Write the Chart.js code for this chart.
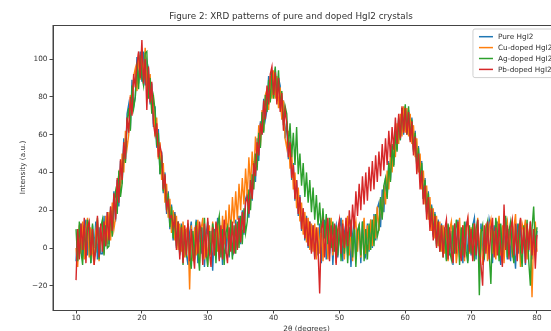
<!DOCTYPE html>
<html>
<head>
<meta charset="utf-8">
<script src="https://cdn.jsdelivr.net/npm/chart.js@4.4.0/dist/chart.umd.min.js"></script>
<style>
  html, body { margin: 0; padding: 0; background: #fff; overflow: hidden; }
  #wrap { position: absolute; left: 0; top: 0; width: 582px; height: 342px; }
</style>
</head>
<body>
<div id="wrap"><canvas id="xrd" width="582" height="342"></canvas></div>
<script>
// 2theta grid: 10 .. 80 in steps of 0.25
const thetaStart = 10;
const thetaStep = 0.25;

const seriesNames = ['Pure HgI2', 'Cu-doped HgI2', 'Ag-doped HgI2', 'Pb-doped HgI2'];
const seriesColors = ['#1f77b4', '#ff7f0e', '#2ca02c', '#d62728'];

const xTicks = [10, 20, 30, 40, 50, 60, 70, 80];
const yTicks = [-20, 0, 20, 40, 60, 80, 100];

// intensities, one row = 5 degrees
const pure = [
  -7, 10, -1, 13, -5, 8, 15, -4, 11, -8, 12, 0, 14, -6, 11, -3, -3, 17, 1, 19,
  2, 22, 8, 30, 14, 36, 22, 46, 34, 58, 46, 71, 76, 63, 89, 75, 80, 101, 87, 104,
  88, 104, 86, 99, 95, 76, 87, 64, 75, 53, 63, 39, 51, 29, 40, 18, 30, 10, 23, 4,
  19, 0, 14, -4, 13, -6, 10, -3, -9, 8, 14, -5, 7, 15, -8, 10, -3, 11, -10, 7,
  14, -4, 9, -12, 10, -2, 16, -6, 8, -9, 12, -3, 13, -5, 10, -4, -2, 15, 0, 17,
  2, 20, 7, 26, 29, 16, 37, 25, 46, 35, 58, 46, 67, 60, 79, 68, 73, 91, 78, 94,
  80, 95, 78, 90, 86, 68, 78, 58, 67, 47, 57, 36, 45, 25, 36, 17, 28, 9, 21, 4,
  17, 0, 14, -2, 12, -5, 10, -4, 13, -8, 9, 15, -6, 11, -3, 14, -9, 8, 12, -5,
  10, 16, -7, 8, 13, -4, 11, -10, 7, 15, -6, 9, 12, -8, 14, -3, -5, 13, -2, 15,
  0, 18, 4, 21, 24, 11, 31, 19, 37, 27, 46, 36, 54, 44, 62, 52, 69, 57, 74, 60,
  75, 61, 73, 58, 69, 52, 62, 44, 54, 36, 46, 26, 37, 18, 30, 12, 23, 6, 19, 2,
  15, -1, 13, -3, 11, -6, 12, -4, 9, -9, 13, -2, 15, -5, 10, -8, 7, 14, -7, 11,
  -4, 12, 16, -6, 9, -10, 13, -1, -5, 11, -2, 15, 10, -8, 12, -4, 14, -1, -9, 11,
  -2, 16, -6, 10, -7, 12, 0, -11, 13, -3, 15, -5, 8, -9, 11, -2, 14, -6, 10, -3,
  9
];

const cuDoped = [
  0, -10, 12, -3, 14, -6, 10, 16, -5, 11, -2, -9, 9, 15, -7, 12, 13, -3, 17, 2,
  19, 4, 24, 10, 16, 33, 39, 29, 50, 40, 62, 53, 60, 81, 71, 91, 95, 83, 103, 89,
  104, 90, 106, 85, 81, 92, 72, 81, 59, 69, 47, 56, 36, 45, 24, 34, 16, 26, 8, 20,
  4, 17, -1, 13, -2, 14, -5, 10, 8, -22, 12, -7, 11, -4, 15, -8, 10, 16, -6, 7,
  -9, 12, -3, 14, -4, 13, -2, 16, 0, 17, 2, 20, 5, 23, 8, 27, 13, 30, 15, 34,
  20, 37, 23, 42, 27, 48, 32, 51, 38, 59, 46, 65, 54, 73, 62, 81, 84, 73, 91, 79,
  94, 79, 91, 74, 85, 68, 78, 58, 53, 62, 42, 51, 31, 40, 21, 32, 14, 24, 7, 19,
  3, 16, -1, 13, -2, 13, -6, 11, -3, 14, -7, 10, 13, -6, 9, 16, -4, 11, -8, 8,
  12, -3, 15, -6, 9, 17, -4, 11, -7, 10, 14, -2, 13, -5, 8, 16, -3, 12, -1, 15,
  1, 17, 5, 22, 9, 26, 16, 33, 23, 41, 31, 50, 40, 58, 48, 66, 55, 71, 59, 75,
  61, 74, 59, 71, 55, 65, 48, 58, 40, 50, 31, 41, 23, 33, 15, 27, 9, 21, 5, 17,
  1, 14, -2, 12, -3, 13, -7, 10, 14, -2, 11, -8, 0, 16, -5, 12, -7, 10, 15, -3,
  11, -6, 13, -1, 16, -4, 10, -9, -2, 13, -7, 11, 15, -3, 9, -6, 10, 17, -4, 12,
  -8, 9, 14, -1, 12, -5, 11, 18, -3, 10, -10, 13, 9, 15, -6, 8, 12, -26, 7, 14,
  -2
];

const agDoped = [
  10, -7, 14, -2, -9, 12, -3, 15, 8, -8, 13, -5, -2, 16, -6, 11, 15, -4, 12, 0,
  1, 20, 6, 25, 30, 18, 41, 27, 34, 54, 45, 67, 74, 62, 86, 74, 80, 98, 84, 102,
  91, 86, 103, 104, 79, 90, 71, 80, 73, 54, 61, 39, 49, 30, 38, 20, 29, 11, 22, 5,
  18, 1, 14, -3, 12, -9, 10, -5, 13, -3, -11, 9, -6, 14, -1, -12, 11, -5, 16, -2,
  -10, 9, -4, 13, 7, -8, 12, 17, -5, 10, -9, 8, 11, -4, 15, -6, 12, -3, 14, 0,
  17, 2, 21, 8, 14, 31, 20, 39, 31, 50, 41, 61, 53, 72, 61, 81, 72, 89, 77, 93,
  79, 96, 80, 94, 74, 83, 65, 75, 71, 53, 66, 48, 61, 44, 64, 39, 50, 33, 45, 27,
  40, 24, 36, 19, 32, 15, 28, 12, 24, 8, 21, 5, 18, 2, 16, 0, 14, -2, 12, -4,
  11, -7, 10, -3, 13, -8, 7, 15, -5, 11, -10, 9, 12, -4, 14, -7, 10, -6, 13, -1,
  15, 1, 18, 6, 10, 27, 15, 33, 37, 26, 45, 35, 55, 43, 62, 51, 68, 57, 74, 62,
  76, 60, 75, 57, 68, 51, 61, 43, 53, 35, 45, 26, 36, 19, 29, 12, 22, 7, 18, 1,
  14, -2, 12, -5, 10, -7, 13, -2, -6, 12, -3, 15, 9, -9, 11, -4, 14, -2, -8, 12,
  -3, 13, -7, 10, 15, -25, 8, 12, -6, 10, 14, -3, -19, 11, -2, 16, 8, -7, 13, -4,
  11, 17, -5, 9, 14, -2, -8, 12, -4, 13, -1, -10, 12, -3, 15, -7, -20, 10, 22, 0,
  11
];

const pbDoped = [
  -17, 10, -6, 13, -1, 16, -8, 11, 14, -4, 10, -9, 0, 17, -5, 13, -2, 14, 1, 19,
  4, 22, 9, 29, 15, 37, 24, 47, 36, 56, 47, 69, 61, 80, 70, 92, 85, 97, 104, 90,
  110, 87, 100, 73, 96, 77, 88, 66, 60, 66, 48, 54, 50, 31, 39, 21, 25, 16, 17, 11,
  16, -1, 14, -6, 11, -8, 12, -4, 15, -7, 10, -2, -11, 12, -3, 14, 8, -9, 13, -5,
  16, -2, -10, 11, -4, 14, 8, -7, 12, -6, 15, -1, -8, 11, -2, 14, -3, 13, -1, 16,
  3, 19, 8, 24, 27, 18, 36, 26, 45, 38, 56, 49, 66, 60, 78, 68, 86, 76, 92, 96,
  81, 93, 76, 90, 72, 82, 62, 73, 66, 48, 56, 37, 44, 26, 36, 18, 27, 10, 21, 5,
  16, 1, 14, -3, 12, -6, 11, -1, -24, 10, 14, -5, 9, 16, -7, 12, -2, 13, -9, 10,
  15, -3, 13, 0, 16, 1, 20, 6, 23, 10, 30, 17, 34, 20, 38, 23, 40, 25, 43, 30,
  46, 31, 49, 35, 51, 38, 55, 41, 58, 44, 62, 48, 64, 52, 69, 55, 71, 58, 75, 61,
  74, 60, 72, 56, 67, 49, 59, 39, 50, 31, 41, 23, 33, 15, 27, 9, 21, 4, 17, 0,
  14, -2, 12, -5, 10, 15, -6, 11, -1, -8, 13, -3, 14, 0, -7, 12, -5, 11, 16, -2,
  10, -7, 13, -4, 15, -2, -9, -20, 12, -3, 14, -6, 9, 16, -5, 11, -4, 13, 0, -10,
  23, -1, 12, -6, 10, 15, -4, 13, -7, 9, 16, -3, 11, -8, 13, -1, 14, -4, 10, -11,
  7
];

const allSeries = [pure, cuDoped, agDoped, pbDoped];

const textColor = '#333';
const axisColor = '#444';
const fontFamily = '"DejaVu Sans", sans-serif';
const tickPx = 7.3;

function toPoints(values) {
  return values.map((v, i) => ({ x: thetaStart + i * thetaStep, y: v }));
}

function fmtTick(v) {
  return v < 0 ? '\u2212' + Math.abs(v) : String(v);
}

// matplotlib style legend box in the upper right + closed axes frame
const boxLegend = {
  id: 'boxLegend',
  afterDatasetsDraw(chart) {
    const { ctx, chartArea: a } = chart;
    ctx.save();
    ctx.strokeStyle = axisColor;
    ctx.lineWidth = 1;
    ctx.strokeRect(a.left, a.top + 0.5, a.right - a.left, a.bottom - a.top);

    ctx.font = tickPx + 'px ' + fontFamily;
    const textW = Math.max(...seriesNames.map(n => ctx.measureText(n).width));
    const rowH = 10.9, lineLen = 14, gap = 5, padL = 6, padR = 4;
    const w = padL + lineLen + gap + textW + padR;
    const h = rowH * seriesNames.length + 5;
    const x0 = a.right - 3.6 - w;
    const y0 = a.top + 4;

    ctx.beginPath();
    ctx.roundRect(x0, y0, w, h, 2);
    ctx.fillStyle = 'rgba(255,255,255,0.8)';
    ctx.fill();
    ctx.strokeStyle = '#d0d0d0';
    ctx.stroke();

    ctx.textBaseline = 'middle';
    ctx.textAlign = 'left';
    seriesNames.forEach((name, i) => {
      const cy = y0 + 7.7 + i * rowH;
      ctx.beginPath();
      ctx.moveTo(x0 + padL, cy);
      ctx.lineTo(x0 + padL + lineLen, cy);
      ctx.strokeStyle = seriesColors[i];
      ctx.lineWidth = 1.5;
      ctx.stroke();
      ctx.fillStyle = textColor;
      ctx.fillText(name, x0 + padL + lineLen + gap, cy + 0.5);
    });
    ctx.restore();
  }
};

new Chart(document.getElementById('xrd'), {
  type: 'line',
  data: {
    datasets: allSeries.map((vals, i) => ({
      label: seriesNames[i],
      data: toPoints(vals),
      borderColor: seriesColors[i],
      backgroundColor: seriesColors[i],
      borderWidth: 1.4,
      pointRadius: 0,
      tension: 0,
      fill: false,
      order: allSeries.length - i // pure drawn first, Pb on top
    }))
  },
  options: {
    responsive: false,
    animation: false,
    devicePixelRatio: 1,
    events: [],
    layout: { padding: { left: 22, right: 22, top: 0, bottom: 0 } },
    plugins: {
      legend: { display: false },
      tooltip: { enabled: false },
      title: {
        display: true,
        text: 'Figure 2: XRD patterns of pure and doped HgI2 crystals',
        color: textColor,
        font: { family: fontFamily, size: 8.8, weight: 'normal' },
        padding: { top: 11.5, bottom: 2.94 }
      }
    },
    scales: {
      x: {
        type: 'linear',
        min: 6.5,
        max: 83.5,
        afterBuildTicks: s => { s.ticks = xTicks.map(v => ({ value: v })); },
        afterFit: s => { s.height = 32; },
        ticks: {
          color: textColor,
          font: { family: fontFamily, size: tickPx },
          padding: 0.5,
          maxRotation: 0,
          callback: fmtTick
        },
        grid: { display: true, drawOnChartArea: false, tickLength: 3.5, color: axisColor },
        border: { display: true, color: axisColor, width: 1 },
        title: {
          display: true,
          text: '2θ (degrees)',
          color: textColor,
          font: { family: fontFamily, size: tickPx },
          padding: { top: 0, bottom: 8.8 }
        }
      },
      y: {
        min: -32.8,
        max: 118,
        afterBuildTicks: s => { s.ticks = yTicks.map(v => ({ value: v })); },
        afterFit: s => { s.width = 31; },
        ticks: {
          color: textColor,
          font: { family: fontFamily, size: tickPx },
          padding: 2,
          callback: fmtTick
        },
        grid: { display: true, drawOnChartArea: false, tickLength: 3.5, color: axisColor },
        border: { display: true, color: axisColor, width: 1 },
        title: {
          display: true,
          text: 'Intensity (a.u.)',
          color: textColor,
          font: { family: fontFamily, size: tickPx },
          padding: { top: -3.4, bottom: 0 }
        }
      }
    }
  },
  plugins: [boxLegend]
});
</script>
</body>
</html>
